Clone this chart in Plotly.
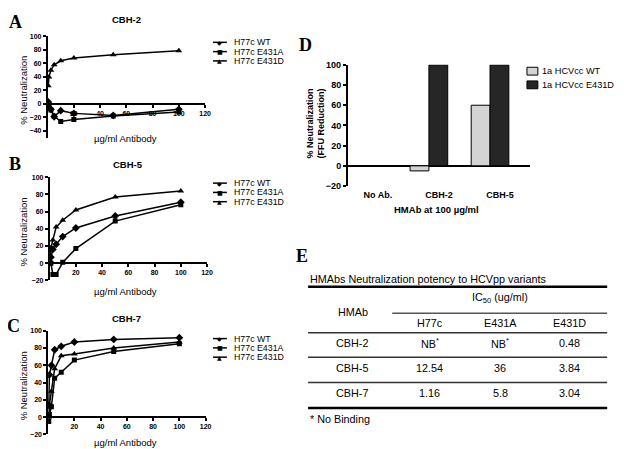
import plotly.graph_objects as go

W, H = 624, 449
def fx(px): return px / W
def fy(py): return 1 - py / H

# ---------------- data ----------------
doses = [0.5, 1, 2.5, 5, 10, 20, 50, 100]
series_names = ["H77c WT", "H77c E431A", "H77c E431D"]

cbh2_wt    = [3, 0, -8, -19, -10, -14, -17, -8]
cbh2_e431a = [0, -3, -9, -18, -26, -23, -18, -12]
cbh2_e431d = [27, 40, 50, 58, 64, 68, 73, 79]

cbh5_wt    = [1, 7, 16, 22, 31, 41, 55, 71]
cbh5_e431a = [0, 0, -13, -13, 1, 17, 49, 68]
cbh5_e431d = [8, 18, 27, 42, 50, 62, 77, 84]

cbh7_wt    = [14, 49, 60, 78, 82, 87, 90, 92]
cbh7_e431a = [-5, 3, 12, 45, 52, 66, 76, 85]
cbh7_e431d = [0, 14, 30, 56, 71, 73, 80, 87]

bar_categories = ["No Ab.", "CBH-2", "CBH-5"]
bar_names = ["1a HCVcc WT", "1a HCVcc E431D"]
bar_wt = [0, -5, 60]
bar_e431d = [0, 100, 100]

table_title = "HMAbs Neutralization potency to HCVpp variants"
table_cols = ["H77c", "E431A", "E431D"]
table_rows = ["CBH-2", "CBH-5", "CBH-7"]
table_vals = [["NB<sup>*</sup>", "NB<sup>*</sup>", "0.48"],
              ["12.54", "36", "3.84"],
              ["1.16", "5.8", "3.04"]]

# ---------------- styles ----------------
FONT = "Liberation Sans, Arial, sans-serif"
SERIF = "Liberation Serif, Times New Roman, serif"
symbols = ["diamond", "square", "triangle-up"]
glyphs = ["\u25C6", "\u25A0", "\u25B2"]
msize = [6, 5, 6]
bar_colors = ["#d4d4d4", "#262626"]

fig = go.Figure()
annotations = []
shapes = []

def ann(x, y, text, size, family=FONT, anchor="center", angle=0):
    annotations.append(dict(x=fx(x), y=fy(y), xref="paper", yref="paper", text=text,
                            showarrow=False, textangle=angle,
                            font=dict(family=family, size=size, color="black"),
                            xanchor=anchor, yanchor="middle"))

panels = [
    dict(k="", title="CBH-2", letter="A", data=[cbh2_wt, cbh2_e431a, cbh2_e431d],
         x0=40, x1=199, yt=24, yb=127.5, yr=[-50, 100], yticks=[-40, -20, 0, 20, 40, 60, 80, 100],
         xt_y=128, t_y=7, leg_y=30, let=(8, 9)),
    dict(k="2", title="CBH-5", letter="B", data=[cbh5_wt, cbh5_e431a, cbh5_e431d],
         x0=42, x1=201, yt=168, yb=273.5, yr=[-20, 100], yticks=[-20, 0, 20, 40, 60, 80, 100],
         xt_y=285, t_y=155, leg_y=174, let=(7, 154)),
    dict(k="3", title="CBH-7", letter="C", data=[cbh7_wt, cbh7_e431a, cbh7_e431d],
         x0=40.5, x1=199.5, yt=325, yb=431, yr=[-20, 100], yticks=[-20, 0, 20, 40, 60, 80, 100],
         xt_y=439.5, t_y=312, leg_y=333, let=(6, 320)),
]

layout_axes = {}
for p in panels:
    k = p["k"]
    xa, ya = "xaxis" + k, "yaxis" + k
    xr, yr_ = "x" + k, "y" + k
    y0px = p["yt"] + (p["yb"] - p["yt"]) * (p["yr"][1] - 0) / (p["yr"][1] - p["yr"][0])
    layout_axes[xa] = dict(domain=[fx(p["x0"]), fx(p["x1"])], range=[0, 120], anchor="free",
                           position=fy(y0px), showline=True, linecolor="black", linewidth=1.5,
                           ticks="outside", ticklen=3, tickwidth=1.5, tickcolor="black",
                           tickvals=[20, 40, 60, 80, 100, 120],
                           tickfont=dict(family=FONT, size=7, color="black", weight="bold"),
                           showgrid=False, zeroline=False, fixedrange=True)
    layout_axes[ya] = dict(domain=[fy(p["yb"]), fy(p["yt"])], range=p["yr"], anchor=xr,
                           showline=True, linecolor="black", linewidth=1.5,
                           ticks="outside", ticklen=3, tickwidth=1.5, tickcolor="black",
                           tickvals=p["yticks"],
                           tickfont=dict(family=FONT, size=7, color="black", weight="bold"),
                           showgrid=False, zeroline=False, fixedrange=True)
    for i, ys in enumerate(p["data"]):
        fig.add_trace(go.Scatter(x=doses, y=ys, xaxis=xr, yaxis=yr_, mode="lines+markers",
                                 name=series_names[i], showlegend=False,
                                 line=dict(color="black", width=1.5),
                                 marker=dict(symbol=symbols[i], size=msize[i], color="black")))
    ann((p["x0"] + p["x1"]) / 2, p["t_y"], "<b>" + p["title"] + "</b>", 9.5)
    ann(p["let"][0], p["let"][1], "<b>" + p["letter"] + "</b>", 18, family=SERIF)
    ann(16, (p["yt"] + p["yb"]) / 2 + 3, "% Neutralization", 9.5, angle=-90)
    ann(119, p["xt_y"], "\u00b5g/ml Antibody", 9.5)
    for i, nm in enumerate(series_names):
        ly = p["leg_y"] + i * 9.5
        shapes.append(dict(type="line", xref="paper", yref="paper",
                           x0=fx(207), x1=fx(221), y0=fy(ly), y1=fy(ly),
                           line=dict(color="black", width=1.5)))
        ann(214, ly, glyphs[i], 6, family="DejaVu Sans")
        ann(226, ly, nm, 8.8, anchor="left")

# ---------------- panel D ----------------
D_x0, D_x1, D_yt, D_yb = 343, 527, 53, 177
cat_px0, cat_step = 363.3, 61.7   # pixel of first group centre and group spacing
for j, (vals, nm) in enumerate(zip([bar_wt, bar_e431d], bar_names)):
    fig.add_trace(go.Bar(x=bar_categories, y=vals, name=nm, xaxis="x4", yaxis="y4",
                         marker=dict(color=bar_colors[j], line=dict(color="black", width=1)),
                         showlegend=False, offsetgroup=str(j)))
layout_axes["xaxis4"] = dict(domain=[fx(D_x0), fx(D_x1)], anchor="y4", type="category",
                             range=[(D_x0 - cat_px0) / cat_step, (D_x1 - cat_px0) / cat_step],
                             showline=False, ticks="", ticklabelshift=10, ticklabelstandoff=2,
                             tickfont=dict(family=FONT, size=9, color="black", weight="bold"),
                             showgrid=False, zeroline=False, fixedrange=True)
layout_axes["yaxis4"] = dict(domain=[fy(D_yb), fy(D_yt)], anchor="x4", range=[-20, 100],
                             showline=True, linecolor="black", linewidth=1.5,
                             ticks="outside", ticklen=3, tickwidth=1.5, tickcolor="black",
                             tickvals=[-20, 0, 20, 40, 60, 80, 100],
                             tickfont=dict(family=FONT, size=9, color="black", weight="bold"),
                             showgrid=False, zeroline=True, zerolinecolor="black", zerolinewidth=1.5,
                             fixedrange=True)
ann(300, 33, "<b>D</b>", 18, family=SERIF)
ann(311, 113, "<b>% Neutralization<br>(FFU Reduction)</b>", 9, angle=-90)
ann(433, 201, "<b>HMAb at 100 \u00b5g/ml</b>", 9.5)
for j, nm in enumerate(bar_names):
    ly = 59.5 + j * 14
    shapes.append(dict(type="rect", xref="paper", yref="paper", x0=fx(524), x1=fx(535),
                       y0=fy(ly - 4), y1=fy(ly + 4), fillcolor=bar_colors[j],
                       line=dict(color="black", width=1)))
    ann(537, ly, nm, 9.2, anchor="left")

# ---------------- panel E (table) ----------------
TL, TR = 303, 605
TF = 10.8
ann(297, 249, "<b>E</b>", 18, family=SERIF)
ann(TL, 272, table_title, TF, anchor="left")
def hline(y, x0, x1, w, c="black"):
    shapes.append(dict(type="line", xref="paper", yref="paper", x0=fx(x0), x1=fx(x1),
                       y0=fy(y), y1=fy(y), line=dict(color=c, width=w)))
hline(280, TL, TR, 2.5)
hline(307, 388, TR, 1)
hline(327, TL, TR, 1.5, "#333")
hline(352, TL, TR, 1.5, "#333")
hline(378, TL, TR, 1.5, "#333")
hline(404, TL, TR, 2.5)
col_x = [426, 497, 567]
ann(497, 292, "IC<sub>50</sub> (ug/ml)", TF)
ann(348, 306, "HMAb", TF)
for cx, c in zip(col_x, table_cols):
    ann(cx, 317, c, TF)
row_y = [338, 363, 389]
for ry, rn, rv in zip(row_y, table_rows, table_vals):
    ann(347, ry, rn, TF)
    for cx, v in zip(col_x, rv):
        ann(cx, ry, v, TF)
ann(TL, 415, "* No Binding", TF, anchor="left")

fig.update_layout(width=W, height=H, margin=dict(l=0, r=0, t=0, b=0),
                  paper_bgcolor="white", plot_bgcolor="rgba(0,0,0,0)",
                  barmode="group", bargap=0.384, bargroupgap=0,
                  showlegend=False, annotations=annotations, shapes=shapes,
                  font=dict(family=FONT, color="black"), **layout_axes)

fig.write_html("out.html")
